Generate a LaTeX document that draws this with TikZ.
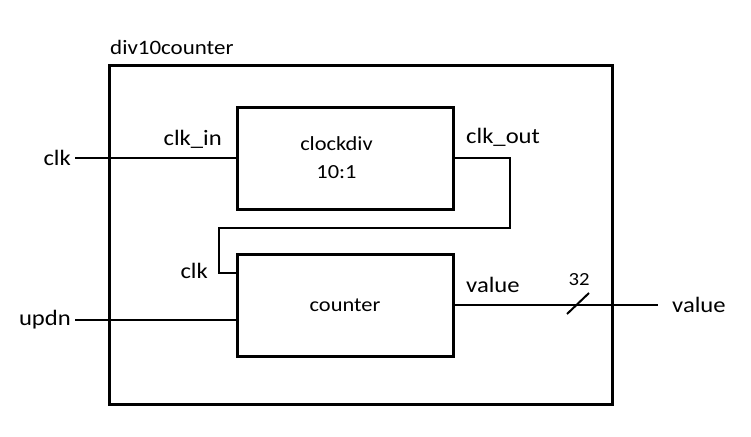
\documentclass[tikz,border=0pt]{standalone}
\usepackage{fontspec}
\setmainfont{Carlito}[FakeStretch=1.12]
\usepackage{tikz}
\usetikzlibrary{calc,positioning}
\tikzset{
  wire/.style={line width=2pt},
  frame/.style={draw, line width=3pt, minimum width=503pt, minimum height=339pt},
  block/.style={draw, line width=3pt, minimum width=216pt, minimum height=102pt, align=center, font=\fontsize{20}{28}\selectfont},
  port/.style={inner sep=0pt, font=\fontsize{22}{26}\selectfont},
  tag/.style={inner sep=0pt, font=\fontsize{20.5}{24}\selectfont}
}

\begin{document}
\begin{tikzpicture}[x=1pt, y=-1pt]
  \useasboundingbox (0,0) rectangle (751,436);
  \node[frame] (top) at (360.5,234.5) {};
  \node[tag, anchor=base west] (topname) at (110,55) {div10counter};
  \node[block, label={[xshift=-8.5pt, align=center, font=\fontsize{20}{28}\selectfont]center:{clockdiv\\10:1}}] (clockdiv) at (345,158) {};
  \node[block] (counter) at (345,305) {counter};

  \coordinate (clk) at (75,158);
  \coordinate (updn) at (75,320);
  \coordinate (value) at (658,305);
  \coordinate (bus) at (578,304);

  \node[port, left=4pt of clk] (clklabel) {clk};
  \node[port, left=4pt of updn] (updnlabel) {updn};
  \node[port, right=14pt of value] (valuelabel) {value};
  \node[port, anchor=base east] (clkin) at (222,145) {clk\_in};
  \node[port, anchor=base west] (clkout) at (466,143) {clk\_out};
  \node[port, anchor=base east] (clkcnt) at (208,278) {clk};
  \node[port, anchor=base west] (valcnt) at (466,292) {value};
  \node[inner sep=0pt, font=\fontsize{18.5}{22}\selectfont, anchor=base] (width) at (579,285) {32};

  \draw[wire] (clk) -- (clockdiv.west);
  \draw[wire] (clockdiv.east) -- ++(55,0) |- ++(-291,70) |- ([yshift=-20pt]counter.north west);
  \draw[wire] (updn) -- (updn -| counter.west);
  \draw[wire] (counter.east) -- (value);
  \draw[wire] ($(bus)+(-11,10)$) -- ($(bus)+(11,-11)$);
\end{tikzpicture}
\end{document}
